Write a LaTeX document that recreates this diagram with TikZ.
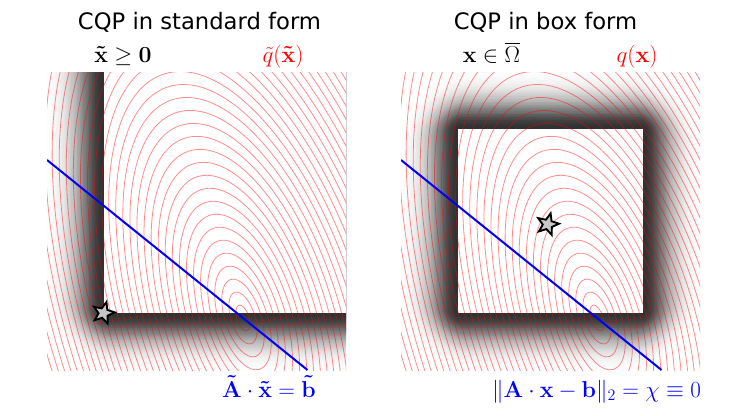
\documentclass[tikz,border=0pt]{standalone}
\usepackage{amsmath}
\usepackage[no-math]{fontspec}
\newfontfamily\dejavu{DejaVu Sans}
\usetikzlibrary{shapes.geometric}
\tikzset{
  contour/.style={red, opacity=0.45, line width=0.6pt},
  cline/.style={blue, line width=1.5pt},
  optstar/.style={star, star points=5, star point ratio=2.3, minimum size=17pt,
    inner sep=0pt, fill=black!22, draw=black, line width=1.4pt, rotate=-15},
  ttl/.style={font=\dejavu\fontsize{17}{20}\selectfont, anchor=base, inner sep=0pt},
  lab/.style={font=\fontsize{17.28}{20}\selectfont, anchor=base, inner sep=0pt},
}
% darkness profile D(d) = 0.82*exp(-(d/28)^2)
\newcommand{\shadowlayers}[1]{%
  \foreach \i in {1,...,44}{%
    \pgfmathsetmacro\ua{0.82*exp(-((1.5*\i-0.75)/28)^2)}%
    \pgfmathsetmacro\ub{0.82*exp(-((1.5*\i+0.75)/28)^2)}%
    \pgfmathsetmacro\op{1-(1-\ua)/(1-\ub)}%
    \pgfmathsetmacro\ea{1.5*\i}%
    \pgfmathsetmacro\rr{0.75*1.4*\ea}%
    \fill[black, opacity=\op, rounded corners=\rr pt] #1;
  }%
}
\begin{document}
\begin{tikzpicture}[x=0.75pt,y=-0.75pt]
\useasboundingbox (0,0) rectangle (747,415);

% ---------- left panel ----------
\begin{scope}
  \clip (47,72) rectangle (346,370);
  \shadowlayers{(104-\ea,-100) rectangle (500,313+\ea)}
  \fill[white] (104,0) rectangle (480,313);
  \begin{scope}[shift={(243,318)}, rotate=18]
    \foreach \n in {1,...,42}{\draw[contour] (0,0) ellipse [x radius=6*\n, y radius=13.5*\n];}
  \end{scope}
  \coordinate (la) at (47,160);
  \coordinate (lb) at (307.5,370);
  \draw[cline] (la) -- (lb);
\end{scope}
\node[optstar] (s1) at (103.5,313) {};

% ---------- right panel ----------
\begin{scope}
  \clip (401,72) rectangle (700,370);
  \shadowlayers{(458-\ea,129-\ea) rectangle (643+\ea,313+\ea)}
  \fill[white] (458,129) rectangle (643,313);
  \begin{scope}[shift={(597,318)}, rotate=18]
    \foreach \n in {1,...,42}{\draw[contour] (0,0) ellipse [x radius=6*\n, y radius=13.5*\n];}
  \end{scope}
  \coordinate (ra) at (401,160);
  \coordinate (rb) at (661.5,370);
  \draw[cline] (ra) -- (rb);
\end{scope}
\node[optstar] (s2) at (547.7,224.3) {};

% ---------- texts ----------
\node[ttl] (t1) at (199.5,29) {CQP in standard form};
\node[ttl] (t2) at (545.5,29) {CQP in box form};
\node[lab] (c1) at (123,62.5) {$\mathbf{\tilde{x}}\geq\mathbf{0}$};
\node[lab, text=red] (q1) at (283,62.5) {$\tilde{q}(\mathbf{\tilde{x}})$};
\node[lab] (c2) at (491.5,62.5) {$\mathbf{x}\in\overline{\Omega}$};
\node[lab, text=red] (q2) at (637,62.5) {$q(\mathbf{x})$};
\node[lab, text=blue] (e1) at (269,397) {$\mathbf{\tilde{A}}\cdot\mathbf{\tilde{x}}=\mathbf{\tilde{b}}$};
\node[lab, text=blue] (e2) at (596.5,397) {$\|\mathbf{A}\cdot\mathbf{x}-\mathbf{b}\|_2=\chi\equiv0$};
\end{tikzpicture}
\end{document}
